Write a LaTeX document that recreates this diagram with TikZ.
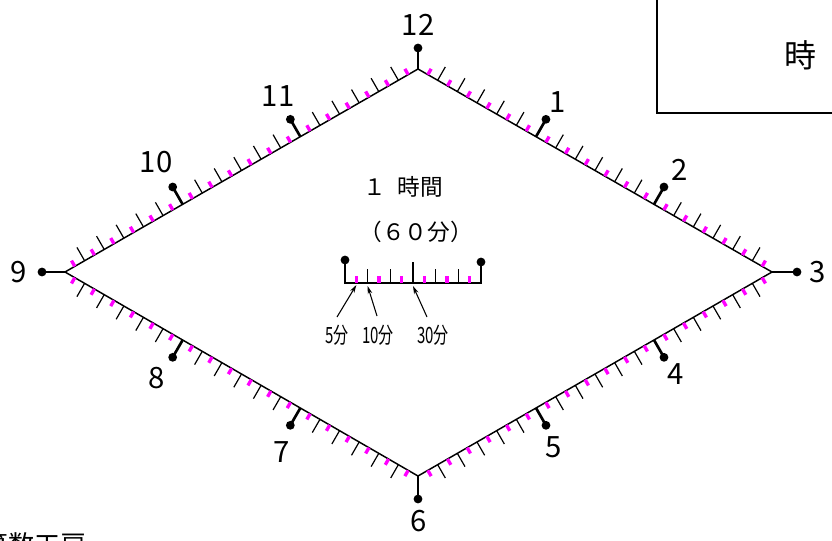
\documentclass[tikz,border=0pt]{standalone}
\usepackage{fontspec}
\setmainfont{Noto Sans CJK JP}
\usetikzlibrary{calc,arrows.meta}
\definecolor{mag}{RGB}{255,0,255}
\begin{document}
\begin{tikzpicture}[x=0.75pt,y=-0.75pt,
  edge/.style={line width=1.1pt},
  blacktick/.style={line width=0.9pt},
  magtick/.style={line width=2.5pt,draw=mag},
  hourstem/.style={line width=2pt},
  numlabel/.style={font=\fontsize{22pt}{26pt}\selectfont,inner sep=0pt},
  midtext/.style={font=\fontsize{17pt}{20pt}\selectfont,inner sep=0pt},
  minlabel/.style={font=\fontsize{15pt}{17pt}\selectfont,inner sep=0pt,xscale=0.75,yscale=1.12},
  ptr/.style={line width=0.8pt,-{Stealth[length=6pt,width=3.5pt]}}]
\useasboundingbox (0,0) rectangle (832,540);
% diamond
\coordinate (T) at (418,69);
\coordinate (R) at (772,272);
\coordinate (B) at (418,476);
\coordinate (L) at (65,272);
\draw[edge] (T) -- (R) -- (B) -- (L) -- cycle;
\foreach \A/\B in {T/R,R/B,B/L,L/T}{
  \foreach \i in {1,3,...,35}{
    \draw[magtick] ($(\A)!{\i/36}!(\B)$) -- ($(\A)!{\i/36}!(\B)!5pt!90:(\B)$);
  }
  \foreach \i in {2,4,6,8,10,14,16,18,20,22,26,28,30,32,34}{
    \draw[blacktick] ($(\A)!{\i/36}!(\B)$) -- ($(\A)!{\i/36}!(\B)!11.5pt!90:(\B)$);
  }
  \foreach \i in {12,24}{
    \draw[hourstem] ($(\A)!{\i/36}!(\B)$) -- ($(\A)!{\i/36}!(\B)!15pt!90:(\B)$);
    \fill ($(\A)!{\i/36}!(\B)!15pt!90:(\B)$) circle (3.3pt);
  }
}
% vertex stems
\coordinate (dT) at (418,48);
\coordinate (dR) at (797,272);
\coordinate (dB) at (418,499);
\coordinate (dL) at (42,272);
\draw[hourstem] (T) -- (dT) (R) -- (dR) (B) -- (dB) (L) -- (dL);
\foreach \d in {dT,dR,dB,dL}{\fill (\d) circle (3.3pt);}
% hour numbers
\node[numlabel] (n12) at (418,25) {12};
\node[numlabel] (n1) at (558,102) {1};
\node[numlabel] (n2) at (680,170) {2};
\node[numlabel] (n3) at (818,272) {3};
\node[numlabel] (n4) at (676,374) {4};
\node[numlabel] (n5) at (554,447) {5};
\node[numlabel] (n6) at (419,521) {6};
\node[numlabel] (n7) at (282,452) {7};
\node[numlabel] (n8) at (157,378) {8};
\node[numlabel] (n9) at (19,272) {9};
\node[numlabel] (n10) at (156,162) {10};
\node[numlabel] (n11) at (278,96) {11};
% centre texts
\node[midtext] (hour) at (403,187) {１\hspace{0.5em}時間};
\node[midtext] (sixty) at (416,232) {（６０分）};
% legend ruler
\coordinate (ML) at (345,283);
\coordinate (MR) at (481,283);
\draw[hourstem] (345,260) -- (ML) -- (MR) -- (481,262);
\fill (345,260) circle (3.3pt);
\fill (481,262) circle (3.3pt);
\foreach \i in {1,3,...,11}{
  \draw[magtick] ($(ML)!{\i/12}!(MR)$) -- ++(0,-7);
}
\foreach \i in {2,4,8,10}{
  \draw[blacktick] ($(ML)!{\i/12}!(MR)$) -- ++(0,-14);
}
\draw[blacktick] ($(ML)!0.5!(MR)$) -- ++(0,-21);
\node[minlabel] (l5) at (337,335) {5分};
\node[minlabel] (l10) at (378,335) {10分};
\node[minlabel] (l30) at (433,335) {30分};
\coordinate (a5) at (337,317);
\coordinate (a10) at (377,316);
\coordinate (a30) at (427,317);
\draw[ptr] (a5) -- ($(ML)!{1/12}!(MR)+(0,2)$);
\draw[ptr] (a10) -- ($(ML)!{2/12}!(MR)+(0,3)$);
\draw[ptr] (a30) -- ($(ML)!{6/12}!(MR)+(0,3)$);
% answer box (top right)
\draw[line width=1.1pt] (657,-10) rectangle (850,113);
\node[font=\fontsize{24pt}{28pt}\selectfont,inner sep=0pt] (ji) at (800,55) {時};
% footer (cut by the page edge, as in the reference)
\node[font=\fontsize{19.5pt}{23pt}\selectfont,inner sep=0pt,anchor=north west] (footer) at (-18,532) {算数工房};
\end{tikzpicture}
\end{document}
